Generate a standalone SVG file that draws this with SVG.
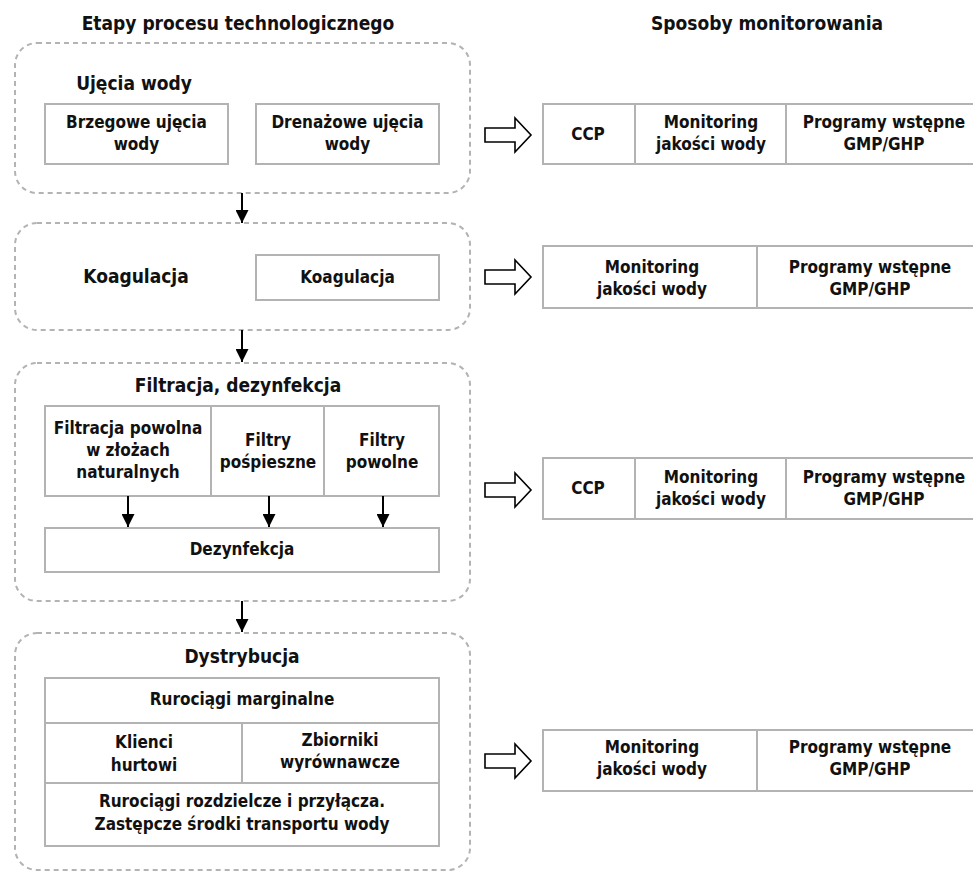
<svg xmlns="http://www.w3.org/2000/svg" width="973" height="872" viewBox="0 0 973 872">
<defs>
<style>
text{font-family:"DejaVu Sans Condensed","DejaVu Sans","Liberation Sans",sans-serif;font-stretch:condensed;font-weight:bold;fill:#111;text-anchor:middle}
.h{font-size:19px}
.t{font-size:17px}
.stage{fill:none;stroke:#b3b3b3;stroke-width:2;stroke-dasharray:5 4}
.box{fill:#fff;stroke:#b3b3b3;stroke-width:2}
.div{stroke:#b3b3b3;stroke-width:2;fill:none}
.conn{stroke:#000;stroke-width:2;fill:none;marker-end:url(#ah)}
.big{fill:#fff;stroke:#000;stroke-width:1.6}
</style>
<marker id="ah" viewBox="0 0 10 10" refX="10" refY="5" markerWidth="13" markerHeight="13" markerUnits="userSpaceOnUse" orient="auto">
<path d="M0,0 L10,5 L0,10 Z" fill="#000"/>
</marker>
<path id="bigarrow" d="M0,-7 H30 V-17 L46,0 L30,17 V7 H0 Z"/>
</defs>
<rect width="973" height="872" fill="#fff"/>

<text class="h" x="238" y="30">Etapy procesu technologicznego</text>
<text class="h" x="767" y="30">Sposoby monitorowania</text>

<g id="stage1">
<rect class="stage" x="15" y="43" width="455" height="150" rx="22"/>
<text class="h" x="134" y="90">Ujęcia wody</text>
<rect class="box" x="45" y="104" width="183" height="60"/>
<text class="t" x="136.5" y="128">Brzegowe ujęcia</text>
<text class="t" x="136.5" y="150">wody</text>
<rect class="box" x="256" y="104" width="183" height="60"/>
<text class="t" x="347.5" y="128">Drenażowe ujęcia</text>
<text class="t" x="347.5" y="150">wody</text>
</g>

<g id="stage2">
<rect class="stage" x="15" y="223" width="455" height="107" rx="22"/>
<text class="h" x="136" y="283">Koagulacja</text>
<rect class="box" x="256" y="255" width="183" height="45"/>
<text class="t" x="347.5" y="283">Koagulacja</text>
</g>

<g id="stage3">
<rect class="stage" x="15" y="363" width="455" height="238" rx="22"/>
<text class="h" x="238" y="392">Filtracja, dezynfekcja</text>
<rect class="box" x="45" y="406" width="394" height="90"/>
<line class="div" x1="211" y1="406" x2="211" y2="496"/>
<line class="div" x1="324" y1="406" x2="324" y2="496"/>
<text class="t" x="128" y="434">Filtracja powolna</text>
<text class="t" x="128" y="456">w złożach</text>
<text class="t" x="128" y="478">naturalnych</text>
<text class="t" x="268" y="446">Filtry</text>
<text class="t" x="268" y="468">pośpieszne</text>
<text class="t" x="382" y="446">Filtry</text>
<text class="t" x="382" y="468">powolne</text>
<rect class="box" x="45" y="528" width="394" height="44"/>
<text class="t" x="242" y="555">Dezynfekcja</text>
</g>

<g id="stage4">
<rect class="stage" x="15" y="633" width="455" height="237" rx="22"/>
<text class="h" x="242" y="663">Dystrybucja</text>
<rect class="box" x="45" y="678" width="394" height="168"/>
<line class="div" x1="45" y1="723" x2="439" y2="723"/>
<line class="div" x1="45" y1="783" x2="439" y2="783"/>
<line class="div" x1="242" y1="723" x2="242" y2="783"/>
<text class="t" x="242" y="705">Rurociągi marginalne</text>
<text class="t" x="144" y="748">Klienci</text>
<text class="t" x="144" y="771">hurtowi</text>
<text class="t" x="340" y="746">Zbiorniki</text>
<text class="t" x="340" y="768">wyrównawcze</text>
<text class="t" x="242" y="807">Rurociągi rozdzielcze i przyłącza.</text>
<text class="t" x="242" y="830">Zastępcze środki transportu wody</text>
</g>

<g id="mon1">
<use href="#bigarrow" class="big" x="485" y="135"/>
<rect class="box" x="543" y="104" width="440" height="60"/>
<line class="div" x1="635" y1="104" x2="635" y2="164"/>
<line class="div" x1="786" y1="104" x2="786" y2="164"/>
<text class="t" x="588" y="140">CCP</text>
<text class="t" x="711" y="128">Monitoring</text>
<text class="t" x="711" y="150">jakości wody</text>
<text class="t" x="884" y="128">Programy wstępne</text>
<text class="t" x="884" y="150">GMP/GHP</text>
</g>

<g id="mon2">
<use href="#bigarrow" class="big" x="485" y="277"/>
<rect class="box" x="543" y="246" width="440" height="62"/>
<line class="div" x1="757" y1="246" x2="757" y2="308"/>
<text class="t" x="652" y="273">Monitoring</text>
<text class="t" x="652" y="295">jakości wody</text>
<text class="t" x="870" y="273">Programy wstępne</text>
<text class="t" x="870" y="295">GMP/GHP</text>
</g>

<g id="mon3">
<use href="#bigarrow" class="big" x="485" y="490"/>
<rect class="box" x="543" y="458" width="440" height="61"/>
<line class="div" x1="635" y1="458" x2="635" y2="519"/>
<line class="div" x1="786" y1="458" x2="786" y2="519"/>
<text class="t" x="588" y="494">CCP</text>
<text class="t" x="711" y="483">Monitoring</text>
<text class="t" x="711" y="505">jakości wody</text>
<text class="t" x="884" y="483">Programy wstępne</text>
<text class="t" x="884" y="505">GMP/GHP</text>
</g>

<g id="mon4">
<use href="#bigarrow" class="big" x="485" y="761"/>
<rect class="box" x="543" y="730" width="440" height="61"/>
<line class="div" x1="757" y1="730" x2="757" y2="791"/>
<text class="t" x="652" y="753">Monitoring</text>
<text class="t" x="652" y="775">jakości wody</text>
<text class="t" x="870" y="753">Programy wstępne</text>
<text class="t" x="870" y="775">GMP/GHP</text>
</g>

<g id="connectors">
<line class="conn" x1="242" y1="193" x2="242" y2="223"/>
<line class="conn" x1="242" y1="330" x2="242" y2="362"/>
<line class="conn" x1="242" y1="601" x2="242" y2="632"/>
<line class="conn" x1="128" y1="496" x2="128" y2="527"/>
<line class="conn" x1="269" y1="496" x2="269" y2="527"/>
<line class="conn" x1="383" y1="496" x2="383" y2="527"/>
</g>
</svg>
